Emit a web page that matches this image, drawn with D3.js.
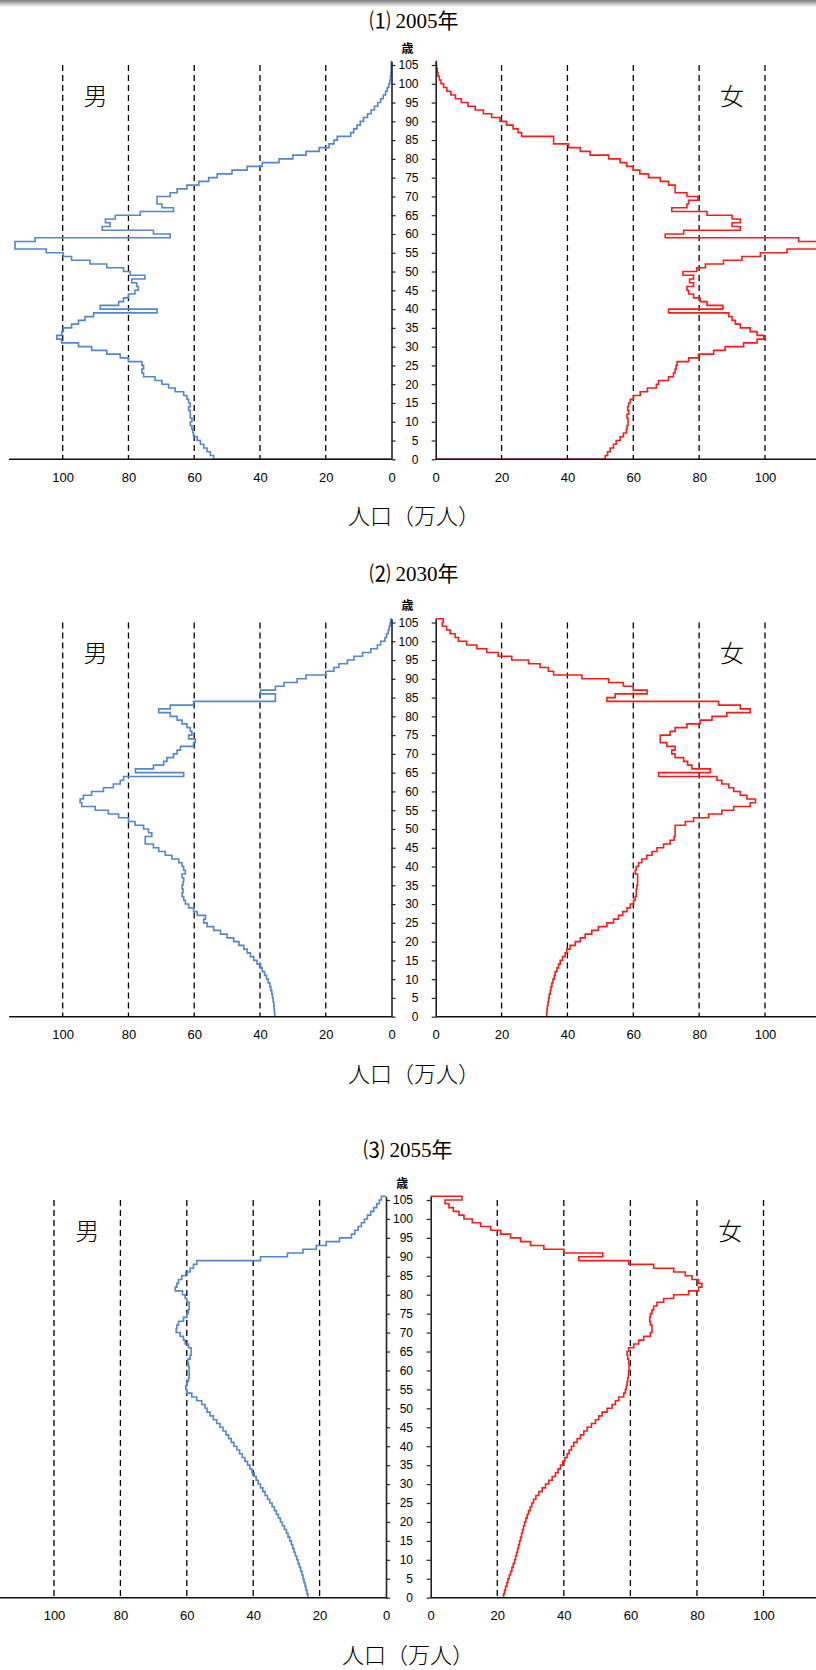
<!DOCTYPE html>
<html>
<head>
<meta charset="utf-8">
<script src="https://cdn.jsdelivr.net/npm/d3@7"></script>
<style>
  body { margin: 0; background: #fff; }
  svg { display: block; }
  .tick-lbl { font-family: "Liberation Sans", Arial, sans-serif; font-size: 12px; fill: #000; }
</style>
</head>
<body>
<svg width="816" height="1670"></svg>
<script>
// 年齢 0..105 (105 = 105歳以上)
const ages = d3.range(0, 106);
const ageTicks = d3.range(0, 106, 5);
const popTicks = [0, 20, 40, 60, 80, 100];
const gridTicks = [20, 40, 60, 80, 100];

// 人口（万人）, index = 年齢
const male2005 = [
  54.1, 55.1, 56.1, 57.1, 58.1, 59.1, 60.2, 60.4, 60.7, 61.2,
  60.7, 61.2, 61.2, 61.7, 61.2, 61.7, 62.2, 63.2, 65.8, 67.8,
  69.8, 71.9, 75.4, 75.9, 75.4, 75.9, 80.0, 82.5, 86.6, 91.2,
  95.2, 100.3, 101.8, 100.3, 99.8, 97.3, 95.2, 93.2, 90.6, 71.3,
  88.6, 83.0, 81.5, 80.0, 78.0, 77.0, 77.5, 79.0, 75.0, 79.5,
  81.5, 86.6, 91.7, 97.3, 99.8, 105.0, 114.5, 114.5, 108.4, 67.3,
  72.4, 88.0, 85.6, 87.0, 84.0, 76.4, 66.3, 69.8, 71.3, 71.3,
  67.3, 65.2, 62.2, 58.6, 55.6, 53.0, 48.5, 43.9, 39.3, 34.2,
  30.0, 26.0, 22.0, 19.0, 17.5, 16.5, 12.4, 11.5, 10.5, 9.5,
  8.5, 7.3, 6.2, 5.2, 4.2, 3.3, 2.5, 1.8, 1.3, 0.8,
  0.5, 0.3, 0.2, 0.1, 0.1, 0.05
];
const female2005 = [
  51.5, 52.2, 53.0, 54.0, 54.8, 56.0, 57.0, 57.9, 58.1, 58.4,
  58.4, 58.1, 58.6, 58.3, 58.6, 59.1, 60.1, 62.1, 64.3, 67.0,
  67.7, 70.7, 72.2, 72.7, 73.0, 73.3, 76.8, 79.8, 84.4, 87.9,
  93.5, 97.6, 99.6, 97.6, 95.5, 92.5, 91.0, 90.0, 89.0, 70.7,
  87.2, 82.4, 80.3, 78.3, 76.8, 76.3, 78.3, 77.1, 78.3, 75.1,
  79.3, 81.9, 87.4, 93.0, 98.6, 106.7, 119.0, 119.0, 110.2, 69.7,
  75.3, 92.5, 90.0, 92.5, 90.0, 82.4, 71.7, 76.3, 76.8, 79.6,
  76.3, 72.7, 72.7, 70.7, 68.2, 64.6, 62.0, 60.0, 58.0, 56.0,
  52.5, 46.9, 43.9, 40.3, 35.8, 35.8, 26.1, 25.0, 23.5, 21.5,
  19.5, 17.0, 14.5, 12.0, 9.8, 7.8, 6.0, 4.6, 3.4, 2.4,
  1.6, 1.1, 0.7, 0.5, 0.3, 0.2
];
const male2030 = [
  35.5, 35.6, 35.7, 35.8, 36.0, 36.2, 36.4, 36.7, 37.0, 37.5,
  38.0, 38.6, 39.3, 39.8, 40.9, 41.9, 42.9, 43.9, 44.9, 46.4,
  48.0, 50.0, 52.0, 54.1, 56.1, 57.1, 56.6, 59.1, 60.2, 61.7,
  62.7, 63.2, 63.7, 63.4, 63.7, 63.4, 63.2, 63.7, 62.7, 63.2,
  63.7, 64.7, 66.8, 68.8, 70.8, 72.4, 74.9, 74.9, 72.9, 73.9,
  75.4, 78.0, 80.0, 83.0, 86.1, 90.1, 94.2, 94.7, 93.7, 91.2,
  87.6, 84.6, 82.5, 81.5, 63.2, 77.9, 72.4, 69.3, 68.3, 66.3,
  65.2, 64.2, 60.2, 59.7, 61.7, 60.7, 61.2, 62.2, 63.7, 65.2,
  67.3, 70.8, 67.3, 60.2, 35.3, 35.3, 39.8, 35.3, 32.7, 28.7,
  26.0, 20.0, 17.5, 16.0, 13.4, 11.4, 8.8, 6.3, 4.3, 3.3,
  2.0, 1.5, 1.0, 0.7, 0.4, 0.2
];
const female2030 = [
  33.7, 33.8, 33.9, 34.1, 34.3, 34.5, 34.8, 35.0, 35.3, 35.6,
  36.0, 36.3, 36.8, 37.3, 37.8, 38.5, 39.3, 39.8, 40.8, 42.4,
  43.9, 45.4, 47.4, 49.4, 52.0, 54.0, 55.5, 56.8, 58.1, 59.1,
  60.1, 60.6, 60.9, 60.9, 61.1, 61.3, 61.3, 61.3, 60.6, 60.9,
  61.6, 62.6, 64.1, 65.7, 67.2, 69.2, 71.2, 72.4, 72.7, 72.7,
  72.7, 75.8, 78.3, 82.9, 86.9, 90.5, 95.5, 97.1, 94.5, 92.5,
  90.5, 89.0, 86.9, 85.4, 67.7, 83.4, 77.8, 76.5, 75.3, 72.7,
  71.7, 72.7, 70.2, 68.2, 68.2, 71.2, 72.7, 76.3, 80.3, 83.9,
  88.4, 95.5, 92.5, 85.9, 52.0, 54.5, 64.2, 60.0, 57.0, 52.5,
  44.4, 35.8, 34.2, 31.7, 28.2, 23.1, 19.0, 15.5, 12.5, 9.4,
  6.9, 5.9, 4.4, 3.3, 2.0, 2.3
];
const male2055 = [
  23.5, 23.8, 24.1, 24.4, 24.7, 25.0, 25.3, 25.7, 26.1, 26.5,
  26.9, 27.3, 27.7, 28.1, 28.5, 29.0, 29.5, 30.0, 30.6, 31.2,
  31.8, 32.4, 33.0, 33.6, 34.3, 35.0, 35.7, 36.4, 37.1, 37.8,
  38.5, 39.1, 39.7, 40.4, 41.0, 41.7, 42.5, 43.3, 44.1, 44.9,
  45.8, 46.6, 47.4, 48.2, 49.1, 50.0, 51.0, 52.0, 53.0, 53.9,
  54.5, 55.5, 57.0, 58.5, 60.0, 60.3, 60.0, 59.5, 59.3, 59.3,
  59.3, 59.5, 59.7, 59.0, 58.7, 58.7, 59.5, 60.5, 61.0, 62.0,
  63.2, 63.0, 62.5, 61.0, 60.0, 59.6, 59.3, 59.3, 60.0, 60.5,
  61.3, 63.5, 63.0, 62.5, 61.5, 60.3, 59.0, 58.0, 57.0, 37.8,
  29.7, 25.0, 21.0, 18.0, 14.0, 10.4, 9.4, 8.4, 7.4, 6.5,
  5.6, 4.6, 3.7, 2.8, 2.0, 1.4
];
const female2055 = [
  21.9, 22.2, 22.5, 22.9, 23.2, 23.6, 24.0, 24.4, 24.8, 25.2,
  25.5, 25.8, 26.1, 26.4, 26.7, 27.0, 27.3, 27.6, 27.9, 28.2,
  28.6, 29.0, 29.4, 29.9, 30.4, 30.9, 31.6, 32.5, 33.5, 34.5,
  35.5, 36.5, 37.5, 38.3, 39.0, 39.7, 40.3, 41.0, 41.6, 42.3,
  43.0, 44.0, 45.0, 46.0, 47.0, 48.3, 49.5, 50.5, 51.5, 53.0,
  54.5, 55.5, 56.5, 58.0, 58.5, 58.8, 59.0, 59.2, 59.4, 59.5,
  59.6, 59.6, 59.5, 59.2, 59.0, 59.5, 61.0, 62.5, 64.0, 66.0,
  66.5, 66.5, 66.0, 65.8, 66.0, 66.5, 67.0, 68.0, 70.0, 73.0,
  77.5, 80.5, 81.5, 80.5, 78.5, 76.5, 73.0, 67.0, 59.5, 44.5,
  51.7, 40.0, 34.0, 30.0, 27.0, 24.0, 21.0, 18.0, 15.0, 12.5,
  10.0, 8.5, 6.8, 5.5, 4.3, 9.4
];

// 各パネルの配置
const panels = [
  { title: "⑴ 2005年", male: male2005, female: female2005,
    titleY: 21, top: 65, base: 459.3, left: 9,
    mZero: 391.5, m100: 62.7, fZero: 435.7, f100: 765, textX: 414 },
  { title: "⑵ 2030年", male: male2030, female: female2030,
    titleY: 574, top: 622.5, base: 1016.7, left: 9,
    mZero: 391.5, m100: 62.7, fZero: 435.7, f100: 765, textX: 414 },
  { title: "⑶ 2055年", male: male2055, female: female2055,
    titleY: 1150, top: 1200, base: 1597.7, left: 0,
    mZero: 386, m100: 54, fZero: 430.7, f100: 763.5, textX: 408 }
];

const svg = d3.select("svg");
const W = 816;

// 上端の影
const defs = svg.append("defs");
const grad = defs.append("linearGradient")
    .attr("id", "topShade").attr("x1", 0).attr("y1", 0).attr("x2", 0).attr("y2", 1);
grad.append("stop").attr("offset", "0%").attr("stop-color", "#7d7d7d");
grad.append("stop").attr("offset", "100%").attr("stop-color", "#ffffff");
svg.append("rect").attr("x", 0).attr("y", 0).attr("width", W).attr("height", 7)
    .attr("fill", "url(#topShade)");

panels.forEach((p, i) => drawPanel(p, i));

function drawPanel(p, idx) {
    const g = svg.append("g");

    const y = d3.scaleLinear().domain([0, 105]).range([p.base, p.top]);
    const xm = d3.scaleLinear().domain([0, 100]).range([p.mZero, p.m100]);
    const xf = d3.scaleLinear().domain([0, 100]).range([p.fZero, p.f100]);

    const clipId = "clip" + idx;
    defs.append("clipPath").attr("id", clipId)
        .append("rect").attr("x", 0).attr("y", p.top - 20)
        .attr("width", W).attr("height", p.base - p.top + 20);

    // 破線グリッド
    gridTicks.forEach(v => {
        [xm(v), xf(v)].forEach(x => {
            g.append("line")
                .attr("x1", x).attr("x2", x)
                .attr("y1", y(105)).attr("y2", y(0))
                .attr("stroke", "#000")
                .attr("stroke-width", 1.3)
                .attr("stroke-dasharray", "6,4");
        });
    });

    // 人口ライン（階段状）
    const drawPop = (vals, x, color) => {
        const pts = [[0, 0]].concat(ages.map(a => [vals[a], a]), [[0, 106]]);
        const line = d3.line()
            .x(d => x(d[0]))
            .y(d => y(d[1]))
            .curve(d3.curveStepBefore);
        g.append("path")
            .datum(pts)
            .attr("clip-path", `url(#${clipId})`)
            .attr("fill", "none")
            .attr("stroke", color)
            .attr("stroke-width", 1.6)
            .attr("stroke-linejoin", "miter")
            .attr("d", line);
    };
    drawPop(p.male, xm, "#5685c9");
    drawPop(p.female, xf, "#ff1a1a");

    // 底辺
    g.append("line")
        .attr("x1", p.left).attr("x2", p.mZero)
        .attr("y1", y(0)).attr("y2", y(0))
        .attr("stroke", "#111").attr("stroke-width", 1.6);
    g.append("line")
        .attr("x1", p.fZero).attr("x2", W)
        .attr("y1", y(0)).attr("y2", y(0))
        .attr("stroke", "#111").attr("stroke-width", 1.6);

    // 年齢軸（男側：目盛りと数字）
    const yAxisScale = d3.scaleLinear().domain([0, 106]).range([p.base, y(106)]);
    const ml = g.append("g")
        .attr("transform", `translate(${p.mZero},0)`)
        .call(d3.axisRight(yAxisScale).tickValues(ageTicks).tickSize(4).tickSizeOuter(0));
    ml.select(".domain").attr("stroke", "#222").attr("stroke-width", 1.6);
    ml.selectAll(".tick line").attr("stroke", "#222").attr("stroke-width", 1.2);
    ml.selectAll(".tick text")
        .attr("class", "tick-lbl")
        .attr("x", 27)
        .attr("text-anchor", "end");

    // 年齢軸（女側：目盛りのみ）
    const fl = g.append("g")
        .attr("transform", `translate(${p.fZero},0)`)
        .call(d3.axisLeft(yAxisScale).tickValues(ageTicks).tickSize(4).tickSizeOuter(0).tickFormat(""));
    fl.select(".domain").attr("stroke", "#222").attr("stroke-width", 1.6);
    fl.selectAll(".tick line").attr("stroke", "#222").attr("stroke-width", 1.2);

    // 人口軸の数字
    const xmAxis = g.append("g")
        .attr("transform", `translate(0,${p.base})`)
        .call(d3.axisBottom(xm).tickValues(popTicks).tickSize(0).tickPadding(13));
    xmAxis.select(".domain").remove();
    xmAxis.selectAll("text").attr("class", "tick-lbl").style("font-size", "13px");
    const xfAxis = g.append("g")
        .attr("transform", `translate(0,${p.base})`)
        .call(d3.axisBottom(xf).tickValues(popTicks).tickSize(0).tickPadding(13));
    xfAxis.select(".domain").remove();
    xfAxis.selectAll("text").attr("class", "tick-lbl").style("font-size", "13px");

    // 見出し
    g.append("text")
        .attr("x", p.textX).attr("y", p.titleY)
        .attr("text-anchor", "middle").attr("dominant-baseline", "central")
        .style("font-family", "'Liberation Serif', 'Noto Sans CJK JP', serif")
        .style("font-size", "21px")
        .text(p.title);

    g.append("text")
        .attr("x", (p.mZero + p.fZero) / 2 - 6).attr("y", p.top - 18)
        .attr("text-anchor", "middle").attr("dominant-baseline", "central")
        .style("font-family", "'Noto Sans CJK JP', sans-serif")
        .style("font-size", "12px").style("font-weight", "bold")
        .text("歳");

    g.append("text")
        .attr("x", xm(90)).attr("y", p.top + 29)
        .attr("text-anchor", "middle").attr("dominant-baseline", "central")
        .style("font-family", "'Noto Sans CJK JP', sans-serif")
        .style("font-size", "24px").style("font-weight", "300")
        .text("男");
    g.append("text")
        .attr("x", xf(90)).attr("y", p.top + 29)
        .attr("text-anchor", "middle").attr("dominant-baseline", "central")
        .style("font-family", "'Noto Sans CJK JP', sans-serif")
        .style("font-size", "24px").style("font-weight", "300")
        .text("女");

    g.append("text")
        .attr("x", p.textX).attr("y", p.base + 55)
        .attr("text-anchor", "middle").attr("dominant-baseline", "central")
        .style("font-family", "'Noto Sans CJK JP', sans-serif")
        .style("font-size", "22px").style("font-weight", "300")
        .text("人口（万人）");
}
</script>
</body>
</html>
